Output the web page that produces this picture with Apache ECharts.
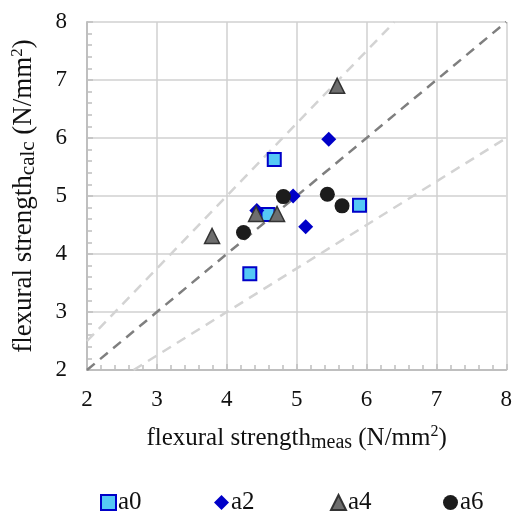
<!DOCTYPE html>
<html><head><meta charset="utf-8">
<script src="https://cdn.jsdelivr.net/npm/echarts@6/dist/echarts.min.js"></script>
<style>html,body{margin:0;padding:0;background:#fff}#c{width:515px;height:512px}</style>
</head><body><div id="c"></div>
<script>
const xTicks = [2,3,4,5,6,7,8];
const yTicks = [2,3,4,5,6,7,8];
const seriesNames = ['a0','a2','a4','a6'];
const a0 = [[4.68,5.63],[4.59,4.68],[5.90,4.84],[4.33,3.66]];
const a2 = [[5.46,5.98],[4.95,5.00],[5.13,4.47],[4.43,4.75]];
const a4 = [[4.42,4.69],[4.72,4.69],[3.79,4.31],[5.58,6.90]];
const a6 = [[4.81,4.99],[5.44,5.03],[5.65,4.83],[4.24,4.37]];
const ratios = [1, 1.25, 0.75];

const lo = 2, hi = 8;
function ratioLine(r){
  const x0 = Math.max(lo, lo / r), x1 = Math.min(hi, hi / r);
  return [[x0, x0*r],[x1, x1*r]];
}
const serif = '"Liberation Serif","Times New Roman",serif';
const chart = echarts.init(document.getElementById('c'));
const axisCommon = {
  min: lo, max: hi, interval: 1,
  axisLine: {show: true, lineStyle: {color: '#bfbfbf', width: 2}},
  axisTick: {show: true, inside: true, length: 6, lineStyle: {color: '#bfbfbf', width: 1.5}},
  minorTick: {show: true, splitNumber: 5, length: 5, lineStyle: {color: '#bfbfbf', width: 1.5}},
  splitLine: {show: true, lineStyle: {color: '#d0d0d0', width: 1.5}},
  axisLabel: {color: '#111', fontFamily: serif, fontSize: 23}
};
function rich(main, sub, sup){
  return {
    b: {fontFamily: serif, fontSize: main, color: '#111'},
    sub: {fontFamily: serif, fontSize: sub, color: '#111', verticalAlign: 'bottom', padding: [Math.round(sub*0.45),0,0,0]},
    sup: {fontFamily: serif, fontSize: sup, color: '#111', verticalAlign: 'top', padding: [0,0,Math.round(sup*0.45),0]}
  };
}
const markerStyles = [
  {symbol: 'rect', symbolSize: 13, itemStyle: {color: '#55c8f5', borderColor: '#0000c8', borderWidth: 2, opacity: 1}},
  {symbol: 'diamond', symbolSize: 15, itemStyle: {color: '#0000c8', opacity: 1}},
  {symbol: 'triangle', symbolSize: 15, itemStyle: {color: '#6e6e6e', borderColor: '#333', borderWidth: 1.5, opacity: 1}},
  {symbol: 'circle', symbolSize: 15, itemStyle: {color: '#1c1c1c', opacity: 1}}
];
const dataSets = [a0, a2, a4, a6];
const lineColors = ['#7f7f7f', '#d3d3d3', '#d3d3d3'];
const series = [];
ratios.forEach((r, i) => {
  series.push({type: 'line', data: ratioLine(r), symbol: 'none', silent: true, z: 1,
    lineStyle: {color: lineColors[i], width: 2.5, type: [10, 7]}});
});
seriesNames.forEach((n, i) => {
  series.push(Object.assign({type: 'scatter', name: n, data: dataSets[i], z: 3}, markerStyles[i]));
});
const legendLefts = [95, 209, 325, 438];
const legends = seriesNames.map((n, i) => ({
  top: 485, left: legendLefts[i], itemWidth: 15, itemHeight: 15, itemGap: 0,
  data: [n], textStyle: {fontFamily: serif, fontSize: 25, color: '#111', padding: [0,0,0,-3]}
}));
chart.setOption({
  animation: false,
  grid: {left: 87, right: 5, top: 22, bottom: 142},
  xAxis: Object.assign({}, axisCommon, {
    type: 'value',
    axisLabel: Object.assign({}, axisCommon.axisLabel, {margin: 18, customValues: xTicks}),
    name: '{b|flexural strength}{sub|meas}{b| (N/mm}{sup|2}{b|)}',
    nameLocation: 'middle', nameGap: 54, nameTextStyle: {rich: rich(25, 20, 16)}
  }),
  yAxis: Object.assign({}, axisCommon, {
    type: 'value',
    axisLabel: Object.assign({}, axisCommon.axisLabel, {margin: 20, customValues: yTicks}),
    name: '{b|flexural strength}{sub|calc}{b| (N/mm}{sup|2}{b|)}',
    nameLocation: 'middle', nameRotate: 90, nameGap: 48, nameTextStyle: {rich: rich(27, 21, 17)}
  }),
  legend: legends,
  series: series
});
</script></body></html>
